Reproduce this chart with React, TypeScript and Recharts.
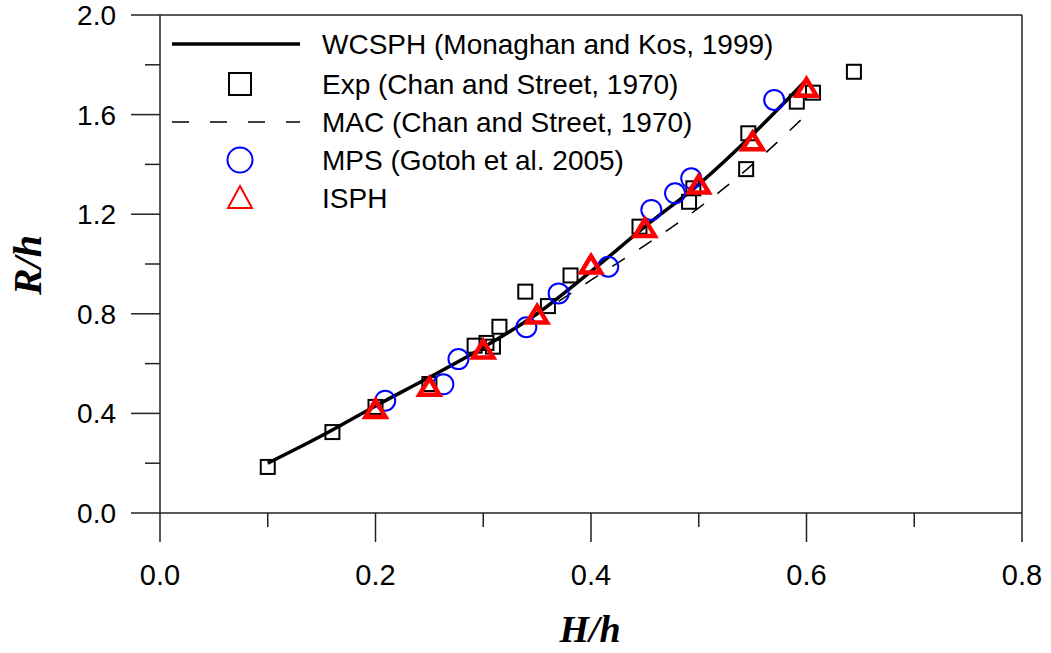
import React from "react";
import {
  ComposedChart,
  Line,
  Scatter,
  XAxis,
  YAxis,
  ReferenceLine,
} from "recharts";

const X_TICKS = [0, 0.1, 0.2, 0.3, 0.4, 0.5, 0.6, 0.7, 0.8];
const Y_TICKS = [0, 0.2, 0.4, 0.6, 0.8, 1.0, 1.2, 1.4, 1.6, 1.8, 2.0];

// WCSPH (Monaghan and Kos, 1999) - solid curve
const wcsphX = [0.1, 0.15, 0.2, 0.25, 0.3, 0.35, 0.4, 0.45, 0.5, 0.55, 0.6];
const wcsphY = [0.2, 0.31, 0.43, 0.545, 0.665, 0.8, 0.97, 1.15, 1.32, 1.52, 1.74];

// MAC (Chan and Street, 1970) - dashed curve
const macX = [0.37, 0.4, 0.45, 0.5, 0.55, 0.6];
const macY = [0.85, 0.935, 1.075, 1.225, 1.4, 1.6];

// Exp (Chan and Street, 1970) - squares
const expX = [0.1, 0.16, 0.2, 0.25, 0.292, 0.303, 0.309, 0.315, 0.339, 0.36, 0.381, 0.445, 0.491, 0.495, 0.544, 0.546, 0.591, 0.606, 0.644];
const expY = [0.185, 0.325, 0.426, 0.518, 0.672, 0.683, 0.668, 0.748, 0.889, 0.831, 0.954, 1.15, 1.25, 1.304, 1.381, 1.525, 1.652, 1.688, 1.772];

// MPS (Gotoh et al. 2005) - circles
const mpsX = [0.209, 0.263, 0.277, 0.34, 0.37, 0.416, 0.456, 0.478, 0.493, 0.57];
const mpsY = [0.451, 0.517, 0.618, 0.746, 0.882, 0.989, 1.217, 1.284, 1.344, 1.659];

// ISPH - triangles
const isphX = [0.2, 0.25, 0.3, 0.35, 0.4, 0.45, 0.5, 0.55, 0.6];
const isphY = [0.416, 0.505, 0.655, 0.795, 0.996, 1.143, 1.317, 1.491, 1.706];

const LEGEND_LABELS = [
  "WCSPH (Monaghan and Kos, 1999)",
  "Exp (Chan and Street, 1970)",
  "MAC (Chan and Street, 1970)",
  "MPS (Gotoh et al. 2005)",
  "ISPH",
];

const zip = (xs: number[], ys: number[]) => xs.map((x, i) => ({ x, y: ys[i] }));

const wcsphData = zip(wcsphX, wcsphY);
const macData = zip(macX, macY);
const expData = zip(expX, expY);
const mpsData = zip(mpsX, mpsY);
const isphData = zip(isphX, isphY);

const SANS = "'Liberation Sans', Arial, sans-serif";
const SERIF = "'Liberation Serif', 'Times New Roman', serif";
const AXIS_COLOR = "#222";

const isMajorX = (v: number) => Math.round(v * 10) % 2 === 0;
const isMajorY = (v: number) => Math.round(v * 10) % 4 === 0;

const XTick = (props: any) => {
  const { x, y, payload } = props;
  const v = payload.value as number;
  const major = isMajorX(v);
  return (
    <g>
      <line x1={x} x2={x} y1={y} y2={y + (major ? 29 : 14)} stroke={AXIS_COLOR} strokeWidth={1.5} />
      {major && (
        <text x={x} y={y + 72} textAnchor="middle" fontFamily={SANS} fontSize={29} fill="#000">
          {v.toFixed(1)}
        </text>
      )}
    </g>
  );
};

const YTick = (props: any) => {
  const { x, y, payload } = props;
  const v = payload.value as number;
  const major = isMajorY(v);
  return (
    <g>
      <line x1={x - (major ? 29 : 15)} x2={x} y1={y} y2={y} stroke={AXIS_COLOR} strokeWidth={1.5} />
      {major && (
        <text x={x - 44} y={y + 10} textAnchor="end" fontFamily={SANS} fontSize={28} fill="#000">
          {v.toFixed(1)}
        </text>
      )}
    </g>
  );
};

const SquareShape = (props: any) => {
  const { cx, cy } = props;
  const s = 14;
  return <rect x={cx - s / 2} y={cy - s / 2} width={s} height={s} fill="none" stroke="#000" strokeWidth={2} />;
};

const CircleShape = (props: any) => {
  const { cx, cy } = props;
  return <circle cx={cx} cy={cy} r={10} fill="none" stroke="#0000ff" strokeWidth={2} />;
};

const TriangleShape = (props: any) => {
  const { cx, cy } = props;
  return (
    <path
      d={`M${cx},${cy - 9} L${cx + 10},${cy + 7.5} L${cx - 10},${cy + 7.5} Z`}
      fill="none"
      stroke="#ff0000"
      strokeWidth={4.5}
      strokeLinejoin="miter"
    />
  );
};

const Overlay = () => {
  const rowY = [44, 84, 122, 160, 198];
  const textX = 322;
  const symX = 240;
  return (
    <svg
      width={1051}
      height={653}
      style={{ position: "absolute", left: 0, top: 0, pointerEvents: "none" }}
    >
      {/* legend */}
      <line x1={172} x2={300} y1={rowY[0]} y2={rowY[0]} stroke="#000" strokeWidth={3.5} />
      <rect x={symX - 11} y={rowY[1] - 11} width={22} height={22} fill="none" stroke="#000" strokeWidth={2} />
      <line x1={172} x2={300} y1={rowY[2]} y2={rowY[2]} stroke="#000" strokeWidth={1.5} strokeDasharray="17 21" />
      <circle cx={symX} cy={rowY[3]} r={12.5} fill="none" stroke="#0000ff" strokeWidth={2} />
      <path
        d={`M${symX},${rowY[4] - 12} L${symX + 12},${rowY[4] + 10} L${symX - 12},${rowY[4] + 10} Z`}
        fill="none"
        stroke="#ff0000"
        strokeWidth={2}
      />
      {LEGEND_LABELS.map((t, i) => (
        <text key={t} x={textX} y={rowY[i] + 10} fontFamily={SANS} fontSize={28} fill="#000">
          {t}
        </text>
      ))}
      {/* axis titles */}
      <text
        x={590}
        y={642}
        textAnchor="middle"
        fontFamily={SERIF}
        fontStyle="italic"
        fontWeight="bold"
        fontSize={38}
        fill="#000"
      >
        H/h
      </text>
      <text
        x={0}
        y={0}
        transform="translate(41,265) rotate(-90)"
        textAnchor="middle"
        fontFamily={SERIF}
        fontStyle="italic"
        fontWeight="bold"
        fontSize={40}
        fill="#000"
      >
        R/h
      </text>
    </svg>
  );
};

export default function App() {
  return (
    <div style={{ position: "absolute", left: 0, top: 0, width: 1051, height: 653, background: "#fff" }}>
      <ComposedChart
        width={1051}
        height={653}
        margin={{ top: 15, right: 29, bottom: 110, left: 100 }}
      >
        <XAxis
          type="number"
          dataKey="x"
          domain={[0, 0.8]}
          ticks={X_TICKS}
          interval={0}
          allowDataOverflow
          height={30}
          tickSize={0}
          tickMargin={0}
          tickLine={false}
          axisLine={{ stroke: AXIS_COLOR, strokeWidth: 1.5 }}
          tick={<XTick />}
        />
        <YAxis
          type="number"
          dataKey="y"
          domain={[0, 2]}
          ticks={Y_TICKS}
          interval={0}
          allowDataOverflow
          width={60}
          tickSize={0}
          tickMargin={0}
          tickLine={false}
          axisLine={{ stroke: AXIS_COLOR, strokeWidth: 1.5 }}
          tick={<YTick />}
        />
        <ReferenceLine y={2} stroke={AXIS_COLOR} strokeWidth={1.5} />
        <ReferenceLine x={0.8} stroke={AXIS_COLOR} strokeWidth={1.5} />
        <Line
          data={macData}
          dataKey="y"
          type="monotone"
          stroke="#000"
          strokeWidth={1.5}
          strokeDasharray="15 17"
          dot={false}
          activeDot={false}
          isAnimationActive={false}
        />
        <Line
          data={wcsphData}
          dataKey="y"
          type="monotone"
          stroke="#000"
          strokeWidth={3.5}
          dot={false}
          activeDot={false}
          isAnimationActive={false}
        />
        <Scatter data={expData} dataKey="y" shape={<SquareShape />} isAnimationActive={false} />
        <Scatter data={mpsData} dataKey="y" shape={<CircleShape />} isAnimationActive={false} />
        <Scatter data={isphData} dataKey="y" shape={<TriangleShape />} isAnimationActive={false} />
      </ComposedChart>
      <Overlay />
    </div>
  );
}
